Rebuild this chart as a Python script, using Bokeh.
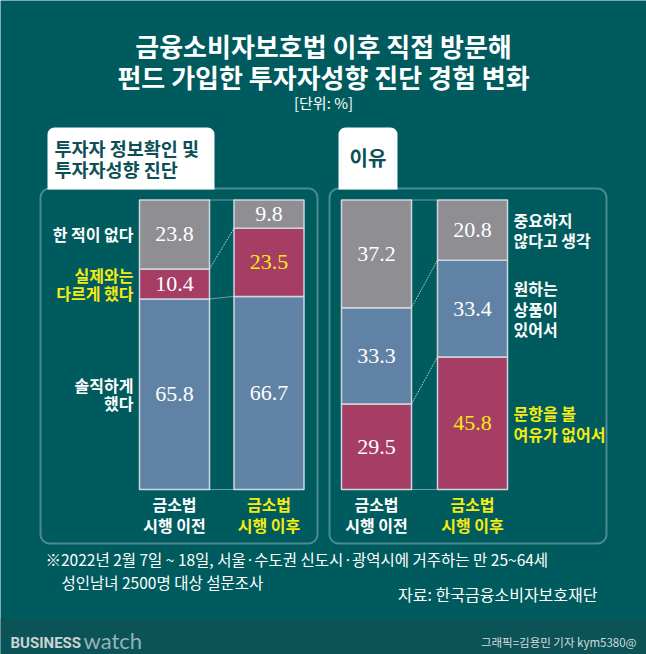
from bokeh.plotting import figure
from bokeh.models import Range1d, BoxAnnotation
from bokeh.core.properties import value
from bokeh.embed import file_html
from bokeh.resources import INLINE

# ---------------- data ----------------
categories = ["금소법\n시행 이전", "금소법\n시행 이후"]

left_series = ["솔직하게\n했다", "실제와는\n다르게 했다", "한 적이 없다"]
left_before = [65.8, 10.4, 23.8]
left_after = [66.7, 23.5, 9.8]

right_series = ["문항을 볼\n여유가 없어서", "원하는\n상품이\n있어서", "중요하지\n않다고 생각"]
right_before = [29.5, 33.3, 37.2]
right_after = [45.8, 33.4, 20.8]

left_highlight = "실제와는\n다르게 했다"
right_highlight = "문항을 볼\n여유가 없어서"

title_lines = ["금융소비자보호법 이후 직접 방문해", "펀드 가입한 투자자성향 진단 경험 변화"]
unit_text = "[단위: %]"
left_tab = "투자자 정보확인 및\n투자자성향 진단"
right_tab = "이유"
note_lines = ["※2022년 2월 7일 ~ 18일, 서울·수도권 신도시·광역시에 거주하는 만 25~64세",
              "성인남녀 2500명 대상 설문조사"]
source_text = "자료: 한국금융소비자보호재단"
credit_text = "그래픽=김용민 기자 kym5380@"

# ---------------- style ----------------
BG = "#005b5e"
BAND = "#0b5357"
GRAY = "#8f8e93"
CRIMSON = "#a63d65"
BLUE = "#6083a5"
YELLOW = "#f5ec12"
WHITE = "#ffffff"
TABTEXT = "#0c4f55"
KR = value("Noto Sans CJK KR")
SERIF = value("Liberation Serif")

left_colors = [BLUE, CRIMSON, GRAY]
right_colors = [CRIMSON, BLUE, GRAY]

W, H = 646, 654
p = figure(width=W, height=H, x_range=Range1d(0, W), y_range=Range1d(H, 0),
           output_backend="svg", toolbar_location=None, min_border=0,
           x_axis_location=None, y_axis_location=None)
p.grid.visible = False
p.outline_line_color = None
p.background_fill_color = BG
p.border_fill_color = BG

# percentage scale for bars: 0 -> row 489, 100 -> row 199.5
K = 2.895
p.extra_y_ranges = {"pct": Range1d(start=(489 - H) / K, end=(489 - 0) / K)}

# bottom band
p.add_layout(BoxAnnotation(left=0, right=W, top=618, bottom=H, fill_color=BAND,
                           fill_alpha=1, line_color=None, level="underlay"))

# panels and tabs
for (l, r) in [(40, 317), (329, 606)]:
    p.add_layout(BoxAnnotation(left=l, right=r, top=188, bottom=543, fill_alpha=0,
                               line_color=WHITE, line_width=2, border_radius=9))
for (l, r) in [(47, 214), (338, 397)]:
    p.add_layout(BoxAnnotation(left=l, right=r, top=127, bottom=189, fill_color=WHITE,
                               fill_alpha=1, line_color=None, border_radius=(7, 7, 0, 0),
                               level="underlay"))

panels = [
    dict(centers=[174, 268.5], series=left_series, vals=[left_before, left_after],
         colors=left_colors, highlight=left_highlight, side="left"),
    dict(centers=[376, 472], series=right_series, vals=[right_before, right_after],
         colors=right_colors, highlight=right_highlight, side="right"),
]
BW = 70

for pan in panels:
    bounds_all = []
    for ci, (cx, vals) in enumerate(zip(pan["centers"], pan["vals"])):
        bottoms, tops = [], []
        acc = 0.0
        for v in vals:
            bottoms.append(acc)
            acc += v
            tops.append(acc)
        bounds_all.append([0.0] + tops)
        p.vbar(x=[cx] * len(vals), width=BW, bottom=bottoms, top=tops,
               fill_color=pan["colors"], line_color="#cfd6dc", line_width=1.5,
               y_range_name="pct")
        mids = [(b + t) / 2 for b, t in zip(bottoms, tops)]
        txt_colors = [YELLOW if (s == pan["highlight"] and ci == 1) else WHITE
                      for s in pan["series"]]
        p.text(x=[cx] * len(vals), y=mids, text=[f"{v:.1f}" for v in vals],
               text_color=txt_colors, text_font=SERIF, text_font_size="22px",
               text_align="center", text_baseline="middle", y_range_name="pct")
        # category label
        p.text(x=[cx], y=[514], text=[categories[ci]],
               text_color=YELLOW if ci == 1 else WHITE, text_font=KR,
               text_font_style="bold", text_font_size="16px", text_align="center",
               text_baseline="middle", text_line_height=0.86)
        # side labels
        lab_colors = [YELLOW if s == pan["highlight"] else WHITE for s in pan["series"]]
        if pan["side"] == "left" and ci == 0:
            p.text(x=[cx - BW / 2 - 6] * len(vals), y=mids, text=pan["series"],
                   text_color=lab_colors, text_font=KR, text_font_style="bold",
                   text_font_size="16px", text_align="right", text_baseline="middle",
                   text_line_height=0.75, y_range_name="pct")
        if pan["side"] == "right" and ci == 1:
            p.text(x=[cx + BW / 2 + 6] * len(vals), y=mids, text=pan["series"],
                   text_color=lab_colors, text_font=KR, text_font_style="bold",
                   text_font_size="16px", text_align="left", text_baseline="middle",
                   text_line_height=0.86, y_range_name="pct")
    # dotted connectors
    c0, c1 = pan["centers"]
    b0, b1 = bounds_all
    p.segment(x0=[c0 + BW / 2] * len(b0), y0=b0, x1=[c1 - BW / 2] * len(b1), y1=b1,
              line_color=WHITE, line_width=1, line_alpha=0.85, line_dash="1 1",
              y_range_name="pct")

# title
p.text(x=[323, 323], y=[45, 76], text=title_lines, text_color=WHITE, text_font=KR,
       text_font_style="bold", text_font_size="26px", text_align="center",
       text_baseline="middle")
p.text(x=[323], y=[102], text=[unit_text], text_color=WHITE, text_font=KR,
       text_font_size="15px", text_align="center", text_baseline="middle")

# tab texts
p.text(x=[54], y=[158], text=[left_tab], text_color=TABTEXT, text_font=KR,
       text_font_style="bold", text_font_size="18.5px", text_align="left",
       text_baseline="middle", text_line_height=0.84)
p.text(x=[367.5], y=[157], text=[right_tab], text_color=TABTEXT, text_font=KR,
       text_font_style="bold", text_font_size="20px", text_align="center",
       text_baseline="middle")

# footnotes
p.text(x=[45, 61], y=[558, 581], text=note_lines, text_color=WHITE, text_font=KR,
       text_font_size="15.5px", text_align="left", text_baseline="middle")
p.text(x=[597], y=[593], text=[source_text], text_color=WHITE, text_font=KR,
       text_font_size="16px", text_align="right", text_baseline="middle")

# bottom band texts
p.text(x=[10], y=[642], text=["BUSINESS"], text_color="#c9d3d4", text_font=value("Roboto"),
       text_font_style="bold", text_font_size="15px", text_align="left",
       text_baseline="middle")
p.text(x=[83], y=[640], text=["watch"], text_color="#93b4b7", text_font=value("Lato"),
       text_font_size="22px", text_align="left", text_baseline="middle")
p.text(x=[636], y=[641], text=[credit_text], text_color="#d5dcdd", text_font=KR,
       text_font_size="11.5px", text_align="right", text_baseline="middle")

open("out.html", "w").write(file_html(p, INLINE))
